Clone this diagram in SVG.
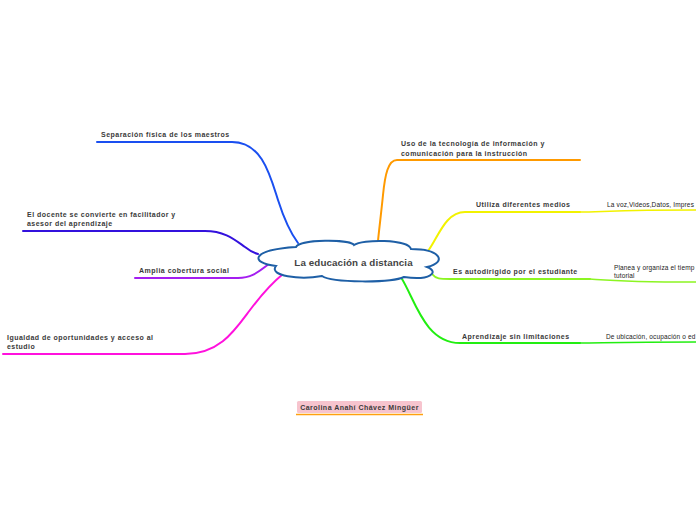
<svg xmlns="http://www.w3.org/2000/svg" width="696" height="520" viewBox="0 0 696 520">
<style>
.lbl{font-family:"Liberation Sans",Arial,sans-serif;font-weight:bold;font-size:7px;letter-spacing:0.48px;fill:#3a3a3a;}
.sub{font-family:"Liberation Sans",Arial,sans-serif;font-size:6.5px;letter-spacing:0.15px;fill:#222;}
.c{fill:none;stroke-width:2;stroke-linecap:round;}
.s{fill:none;stroke-width:1.6;stroke-linecap:round;}
</style>
<rect width="696" height="520" fill="#fff"/>
<g id="connectors">
<path class="c" stroke="#1a4ff0" d="M97,142 L232,142 C262,142 270,175 278,200 C286,225 292,235 298,243"/>
<path class="c" stroke="#ff9a00" d="M580,160 L397,160 C388,160 385,175 383,195 C381,215 379,230 378,241"/>
<path class="c" stroke="#3311dd" d="M23,231 L205,231 C225,231 235,240 245,247 C250,251 254,253 258,254"/>
<path class="c" stroke="#a41ef0" d="M135,278 L238,278 C255,278 262,268 272,262"/>
<path class="c" stroke="#ff11dd" d="M3,354 L185,354 C220,354 235,330 250,310 C262,294 272,283 283,274"/>
<path class="c" stroke="#f2f200" d="M428,251 C438,238 445,212 465,212 L580,212"/>
<path class="s" stroke="#f2f200" d="M580,212 C600,212 620,210 696,210"/>
<path class="c" stroke="#8cf522" d="M432,274 C436,279 440,279 450,279 L590,279"/>
<path class="s" stroke="#8cf522" d="M590,279 C605,280 620,282 696,282"/>
<path class="c" stroke="#22ee11" d="M402,279 C415,300 425,343 460,343 L580,343"/>
<path class="s" stroke="#22ee11" d="M580,343 C600,343 620,342 696,342"/>
</g>
<g id="center">
<path d="M296,247 C300,239 350,239 354,245 C362,239 408,239 411,249 C440,249 448,262 427,267 C440,272 430,281 404,277 C392,283 332,283 322,276 C300,280 268,276 276,266 C250,263 250,250 296,247 Z" fill="#fff" stroke="#1e5fa6" stroke-width="2"/>
<text x="353.5" y="266" text-anchor="middle" font-family="Liberation Sans,Arial,sans-serif" font-weight="bold" font-size="9.8" letter-spacing="0.1" fill="#444">La educación a distancia</text>
</g>
<g id="n-separacion"><text class="lbl" x="101" y="137">Separación física de los maestros</text></g>
<g id="n-uso"><text class="lbl" x="401" y="146">Uso de la tecnología  de información y</text><text class="lbl" x="401" y="156">comunicación para la instrucción</text></g>
<g id="n-docente"><text class="lbl" x="27" y="217">El docente se convierte en facilitador  y</text><text class="lbl" x="27" y="226">asesor del aprendizaje</text></g>
<g id="n-amplia"><text class="lbl" x="139" y="273">Amplia cobertura social</text></g>
<g id="n-igualdad"><text class="lbl" x="7" y="340">Igualdad de oportunidades y acceso al</text><text class="lbl" x="7" y="349">estudio</text></g>
<g id="n-utiliza"><text class="lbl" x="476" y="207">Utiliza diferentes medios</text></g>
<g id="n-voz"><text class="sub" x="607" y="207">La voz,Videos,Datos, Impres</text></g>
<g id="n-auto"><text class="lbl" x="453" y="274">Es autodirigido por el estudiante</text></g>
<g id="n-planea"><text class="sub" x="614" y="270">Planea y organiza el tiemp</text><text class="sub" x="614" y="278">tutorial</text></g>
<g id="n-aprendizaje"><text class="lbl" x="462" y="339">Aprendizaje sin limitaciones</text></g>
<g id="n-ubicacion"><text class="sub" x="606" y="339">De ubicación, ocupación o ed</text></g>
<g id="n-autor">
<rect x="297" y="401" width="125" height="12" rx="1.5" fill="#f7c4ce"/>
<line x1="296" y1="414.5" x2="423" y2="414.5" stroke="#ffa010" stroke-width="1.5"/>
<text class="lbl" x="359.5" y="409.5" text-anchor="middle">Carolina Anahí Chávez Mingüer</text>
</g>
</svg>
